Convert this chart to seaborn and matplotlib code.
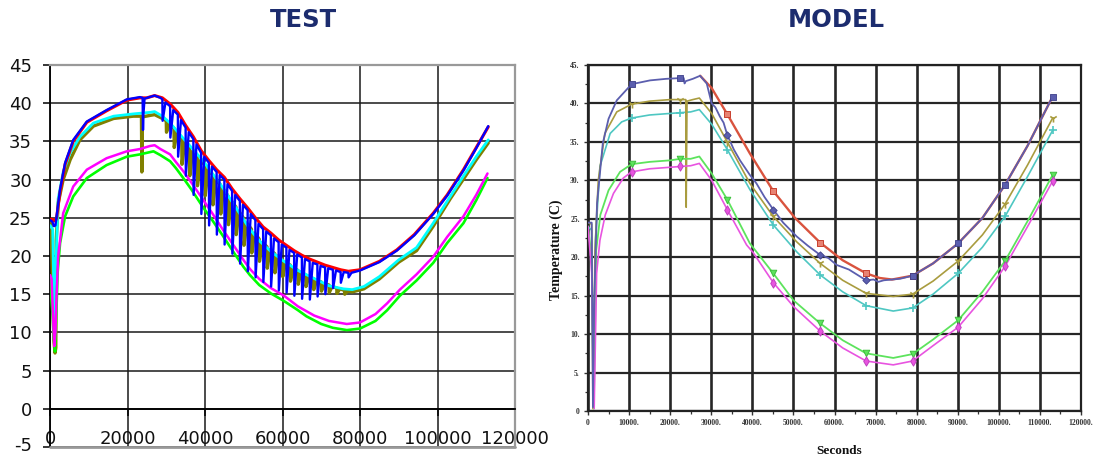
import numpy as np
import pandas as pd
import matplotlib
matplotlib.use("Agg")
import matplotlib.pyplot as plt
from matplotlib.ticker import MultipleLocator
from matplotlib.transforms import ScaledTranslation
import seaborn as sns

sns.set_theme(style="white")
plt.rcParams["font.family"] = ["DejaVu Sans"]
plt.rcParams["axes.unicode_minus"] = False

# ---------------- TEST panel data (seconds, deg C) ----------------
test_xticks = [0, 20000, 40000, 60000, 80000, 100000, 120000]
test_xtick_labels = ["0", "20000", "40000", "60000", "80000", "100000", "120000"]
test_yticks = [-5, 0, 5, 10, 15, 20, 25, 30, 35, 40, 45]

test_red = [(0, 24.8), (600, 24.8), (1000, 24.6), (1400, 24.6), (1700, 25.0), (2600, 28.4),
            (3900, 32.0), (6000, 35.0), (9500, 37.5), (14600, 39.0), (19800, 40.4), (23200, 40.7),
            (25000, 40.7), (27000, 41.0), (29000, 40.7), (31000, 39.9), (33000, 38.8), (35000, 37.1),
            (37000, 35.6), (39000, 33.8), (41000, 32.5), (43000, 31.3), (45000, 30.3), (47000, 28.8),
            (49000, 27.5), (51000, 26.3), (53000, 25.0), (55000, 23.8), (57000, 23.0), (59000, 22.1),
            (61000, 21.4), (63000, 20.7), (65000, 20.1), (67000, 19.6), (69000, 19.2), (71000, 18.8),
            (73000, 18.5), (75000, 18.2), (77000, 18.0), (80000, 18.2), (85000, 19.3), (89500, 20.8),
            (94000, 22.8), (98900, 25.6), (102500, 28.0), (106700, 31.3), (110000, 34.2), (113100, 36.9)]

test_blue = [(0, 24.7), (600, 24.5), (1000, 23.9), (1400, 24.0), (1700, 25.2), (2600, 28.7),
             (3900, 32.2), (6000, 35.2), (9500, 37.6), (14600, 39.1), (19800, 40.5), (23200, 40.8),
             (23900, 40.7), (24000, 36.5), (24100, 38.5), (24400, 40.6), (25000, 40.7), (27000, 41.0),
             (28500, 40.7),
             (29000, 40.5), (29060, 37.7), (29800, 40.1),
             (31000, 39.6), (31060, 35.5), (31800, 39.1),
             (33000, 38.5), (33060, 33.0), (33800, 37.8),
             (35000, 36.8), (35060, 30.5), (35800, 36.2),
             (37000, 35.3), (37060, 28.0), (37800, 34.6),
             (39000, 33.5), (39060, 25.5), (39800, 33.0),
             (41000, 32.2), (41060, 24.0), (41800, 31.7),
             (43000, 31.0), (43060, 22.8), (43800, 30.6),
             (45000, 30.0), (45060, 21.5), (45800, 29.4),
             (47000, 28.5), (47060, 20.3), (47800, 28.0),
             (49000, 27.2), (49060, 19.0), (49800, 26.7),
             (51000, 26.0), (51060, 18.0), (51800, 25.5),
             (53000, 24.7), (53060, 17.2), (53800, 24.2),
             (55000, 23.5), (55060, 16.6), (55800, 23.2),
             (57000, 22.7), (57060, 16.0), (57800, 22.3),
             (59000, 21.8), (59060, 15.5), (59800, 21.5),
             (61000, 21.1), (61060, 15.2), (61800, 20.8),
             (63000, 20.4), (63060, 14.8), (63800, 20.2),
             (65000, 19.8), (65060, 14.4), (65800, 19.6),
             (67000, 19.3), (67060, 14.3), (67800, 19.1),
             (69000, 18.9), (69060, 14.7), (69800, 18.7),
             (71000, 18.5), (71060, 15.0), (71800, 18.4),
             (73000, 18.2), (73060, 15.8), (73800, 18.1),
             (75000, 17.9), (75060, 16.5), (75800, 17.9),
             (77000, 17.8), (77060, 17.2), (77800, 17.8),
             (80000, 18.1), (85000, 19.2), (89500, 20.7), (94000, 22.7), (98900, 25.5),
             (102500, 27.9), (106700, 31.2), (110000, 34.1), (113100, 37.0)]

test_cyan = [(0, 24.0), (700, 23.5), (1000, 15.0), (1300, 11.0), (1600, 20.0), (2100, 27.5),
             (3400, 31.0), (5200, 33.5), (7700, 35.6), (11200, 37.4), (16400, 38.3), (21500, 38.6),
             (25800, 38.8), (27000, 38.9), (29000, 38.3), (31000, 37.4), (34400, 35.4), (39600, 32.4),
             (44800, 28.8), (48000, 26.3), (51600, 23.5), (54200, 21.9), (57000, 20.6), (60400, 19.3),
             (64000, 18.1), (68800, 16.9), (72000, 16.1), (75700, 15.7), (78000, 15.6), (81000, 16.0),
             (85000, 17.3), (90000, 19.5), (94600, 21.1), (98900, 24.3), (103300, 27.8), (107000, 30.7),
             (110000, 33.0), (113100, 35.2)]

test_olive = [(0, 24.5), (300, 24.0), (600, 17.0), (1000, 9.0), (1300, 7.3), (1500, 8.0),
              (1600, 22.0), (2100, 26.9), (3400, 30.0), (5200, 32.6), (7700, 35.2), (11200, 37.0),
              (16400, 38.0), (21500, 38.3), (23600, 38.3), (23700, 31.0), (23800, 38.2), (25800, 38.4),
              (27000, 38.5), (29000, 38.0),
              (30000, 37.7), (30060, 36.2), (30800, 37.3),
              (32000, 36.7), (32060, 34.2), (32800, 36.2),
              (34000, 35.4), (34060, 32.0), (34800, 34.9),
              (36000, 34.3), (36060, 30.5), (36800, 33.7),
              (38000, 33.1), (38060, 29.2), (38800, 32.5),
              (40000, 31.9), (40060, 27.9), (40800, 31.3),
              (42000, 30.6), (42060, 26.7), (42800, 30.0),
              (44000, 29.3), (44060, 25.5), (44800, 28.7),
              (46000, 27.8), (46060, 24.1), (46800, 27.2),
              (48000, 26.4), (48060, 22.8), (48800, 25.8),
              (50000, 24.9), (50060, 21.4), (50800, 24.3),
              (52000, 23.5), (52060, 20.4), (52800, 23.0),
              (54000, 22.2), (54060, 19.3), (54800, 21.8),
              (56000, 21.2), (56060, 18.4), (56800, 20.8),
              (58000, 20.3), (58060, 17.8), (58800, 20.0),
              (60000, 19.5), (60060, 17.3), (60800, 19.2),
              (62000, 18.8), (62060, 16.7), (62800, 18.5),
              (64000, 18.1), (64060, 16.3), (64800, 17.9),
              (66000, 17.5), (66060, 16.0), (66800, 17.3),
              (68000, 17.0), (68060, 15.6), (68800, 16.8),
              (70000, 16.6), (70060, 15.4), (70800, 16.4),
              (72000, 16.2), (72060, 15.2), (72800, 16.0),
              (74000, 15.8), (74060, 15.1), (74800, 15.7),
              (76000, 15.5), (76060, 15.0), (76800, 15.4),
              (78000, 15.3), (81000, 15.7), (85000, 17.0), (90000, 19.2), (94600, 20.7),
              (98900, 23.9), (103300, 27.5), (107000, 30.3), (110000, 32.6), (113100, 34.8)]

test_magenta = [(0, 17.5), (400, 17.0), (800, 12.0), (1100, 8.2), (1400, 10.0), (1700, 15.0),
                (2100, 19.9), (3400, 25.6), (6000, 29.1), (9500, 31.3), (14600, 32.8), (19800, 33.7),
                (23200, 34.0), (25800, 34.4), (27000, 34.5), (28500, 34.0), (31000, 33.3), (32500, 32.3),
                (34400, 31.1), (36500, 29.6), (39600, 27.3), (42000, 25.5), (44800, 23.3), (47500, 21.3),
                (49900, 19.5), (51600, 18.3), (54000, 17.0), (57000, 15.8), (60400, 14.8), (64000, 13.4),
                (68200, 12.2), (72000, 11.5), (76600, 11.1), (80000, 11.3), (84000, 12.4), (87000, 13.8),
                (90300, 15.6), (94600, 17.6), (98900, 19.9), (102500, 22.5), (106700, 25.2),
                (110000, 28.0), (112900, 30.8)]

test_green = [(0, 17.0), (400, 14.0), (700, 12.1), (1000, 9.0), (1300, 7.5), (1600, 12.0),
              (2000, 18.0), (2600, 21.7), (3900, 25.2), (6000, 27.8), (9500, 30.2), (14600, 31.9),
              (19800, 33.0), (23200, 33.3), (26700, 33.7), (28500, 33.2), (31000, 32.4), (32500, 31.5),
              (34400, 30.2), (36500, 28.7), (39600, 26.3), (42000, 24.6), (44800, 22.5), (47500, 20.4),
              (49900, 18.6), (51600, 17.5), (54000, 16.2), (57000, 15.1), (60400, 14.1), (64000, 12.9),
              (66200, 12.1), (70000, 11.1), (73000, 10.6), (76600, 10.3), (80000, 10.5), (84000, 11.5),
              (87000, 12.9), (90300, 14.8), (94600, 16.8), (98900, 19.1), (102500, 21.7),
              (106700, 24.3), (110000, 27.3), (112900, 30.2)]

# ---------------- MODEL panel data ----------------
model_xticks = [0, 10000, 20000, 30000, 40000, 50000, 60000, 70000, 80000, 90000, 100000, 110000, 120000]
model_xtick_labels = ["0", "10000.", "20000.", "30000.", "40000.", "50000.", "60000.",
                      "70000.", "80000.", "90000.", "100000.", "110000.", "120000."]
model_yticks = [0, 5, 10, 15, 20, 25, 30, 35, 40, 45]
model_ytick_labels = ["0", "5.", "10.", "15.", "20.", "25.", "30.", "35.", "40.", "45."]
model_marker_x = [10600, 22500, 33900, 45100, 56500, 67700, 79000, 90100, 101500, 113100]

model_purple_x = [0, 900, 1200, 1500, 2200, 3600, 5000, 7000, 10600, 15100, 19000, 22500, 23300,
                  23500, 23800, 25500, 27300, 28900, 30100, 31000, 32100, 33000, 33900, 35500, 37000,
                  39400, 41000, 43000, 45100, 47500, 50800, 53500, 56500, 58500, 60500, 63500, 66200,
                  67700, 69500, 70700, 72000, 74000, 76000, 79000, 84000, 90100, 96000, 101500,
                  107000, 113100]
model_purple_y = [24.5, 24.5, 0.5, 14.0, 27.0, 34.8, 38.0, 40.4, 42.5, 43.0, 43.2, 43.3, 43.3,
                  42.6, 42.9, 43.2, 43.6, 42.6, 40.0, 39.5, 38.3, 37.5, 35.9, 34.0, 32.6,
                  30.7, 29.6, 27.8, 26.2, 24.5, 22.7, 21.5, 20.3, 19.9, 19.0, 18.4, 17.5,
                  17.0, 17.1, 16.8, 17.0, 17.1, 17.2, 17.6, 19.2, 21.8, 25.1, 29.4,
                  34.5, 40.9]

model_red_x = [27300, 30100, 33900, 39400, 45100, 50400, 56500, 62000, 67700, 71000, 74000,
               79000, 84000, 90100, 96000, 101500, 107000, 113100]
model_red_y = [43.6, 42.0, 38.6, 33.5, 28.6, 25.1, 21.9, 19.6, 17.9, 17.3, 17.1,
               17.6, 19.2, 21.8, 25.1, 29.4, 34.5, 40.9]

model_olive_x = [0, 900, 1200, 1700, 2500, 4100, 7000, 10600, 15000, 20000, 22500, 23800, 23900,
                 24100, 25500, 27100, 30100, 33900, 39400, 45100, 50800, 56500, 62000, 67700,
                 74300, 79000, 84000, 90100, 96000, 101500, 107000, 113100]
model_olive_y = [24.5, 24.3, 0.3, 20.9, 30.0, 36.1, 38.9, 39.9, 40.3, 40.5, 40.5, 40.5, 26.5,
                 40.3, 40.5, 40.7, 38.7, 35.0, 29.6, 25.3, 22.0, 19.2, 17.0, 15.3,
                 14.9, 15.2, 16.9, 19.5, 22.9, 26.9, 32.0, 38.1]

model_cyan_x = [0, 900, 1300, 1800, 2900, 5400, 8200, 10600, 15000, 20000, 22500, 25000, 27100,
                30100, 33900, 39400, 45100, 50800, 56500, 62000, 67700, 74300, 79000, 84000,
                90100, 96000, 101500, 107000, 113100]
model_cyan_y = [24.0, 23.5, 1.0, 22.0, 31.8, 36.1, 37.6, 38.1, 38.5, 38.7, 38.8, 38.9, 39.2,
                37.3, 34.0, 28.8, 24.2, 20.7, 17.7, 15.5, 13.7, 13.0, 13.4, 15.2,
                17.9, 21.3, 25.3, 30.5, 36.5]

model_green_x = [0, 900, 1400, 1700, 2000, 3000, 5000, 7800, 10600, 15000, 20000, 22500, 25000,
                 27100, 30100, 33900, 39400, 45100, 50000, 56500, 62000, 67700, 74300, 79000,
                 84000, 90100, 96000, 101500, 107000, 113100]
model_green_y = [24.0, 20.0, 0.3, 10.0, 20.9, 25.5, 28.7, 31.1, 32.1, 32.4, 32.6, 32.8, 32.8,
                 33.1, 30.9, 27.5, 21.8, 17.9, 14.4, 11.4, 9.2, 7.5, 6.9, 7.4,
                 9.3, 11.8, 15.5, 19.5, 24.7, 30.7]

model_magenta_x = [0, 900, 1500, 2100, 2900, 4200, 6200, 8600, 10600, 15000, 20000, 22500, 25000,
                   27100, 30100, 33900, 38600, 40200, 45100, 50000, 56500, 62000, 67700, 74300,
                   79000, 84000, 90100, 96000, 101500, 107000, 113100]
model_magenta_y = [24.0, 18.0, 0.3, 17.9, 22.2, 25.5, 28.3, 30.3, 31.1, 31.5, 31.7, 31.8, 31.9,
                   32.2, 30.0, 26.2, 21.6, 20.6, 16.7, 13.6, 10.4, 8.2, 6.5, 6.0,
                   6.5, 8.5, 10.9, 14.6, 18.8, 24.0, 29.9]

# ---------------- figure ----------------
W, H = 1095, 455
fig = plt.figure(figsize=(W / 100, H / 100), dpi=100)
fig.patch.set_facecolor("white")

ax1 = fig.add_axes([50 / W, 1 - 447 / H, 465 / W, 382 / H])
ax2 = fig.add_axes([588 / W, 1 - 411 / H, 493 / W, 346 / H])


def draw_pairs(ax, pairs, color, lw, z):
    xs, ys = zip(*pairs)
    df = pd.DataFrame({"x": xs, "y": ys})
    sns.lineplot(data=df, x="x", y="y", ax=ax, color=color, linewidth=lw,
                 sort=False, estimator=None, zorder=z)


# TEST series
draw_pairs(ax1, test_olive, "#808000", 2.4, 3)
draw_pairs(ax1, test_cyan, "#00FFFF", 2.0, 4)
draw_pairs(ax1, test_green, "#00FF00", 1.9, 5)
draw_pairs(ax1, test_magenta, "#FF00FF", 1.8, 6)
draw_pairs(ax1, test_red, "#FF0000", 2.2, 7)
draw_pairs(ax1, test_blue, "#0000FF", 1.7, 8)

ax1.set_xlim(0, 120000)
ax1.set_ylim(-5, 45)
ax1.set_xticks(test_xticks)
ax1.set_xticklabels(test_xtick_labels)
ax1.set_yticks(test_yticks)
ax1.set_yticklabels([str(v) for v in test_yticks])
ax1.set_xlabel("")
ax1.set_ylabel("")
ax1.set_axisbelow(True)
ax1.grid(True, color="#1a1a1a", linewidth=1.1)
ax1.spines["bottom"].set_position(("data", 0))
for s in ["bottom", "left"]:
    ax1.spines[s].set_color("black")
    ax1.spines[s].set_linewidth(1.3)
for s in ["top", "right"]:
    ax1.spines[s].set_color("#999999")
    ax1.spines[s].set_linewidth(1.6)
ax1.axhline(-5, color="#999999", linewidth=2.0, zorder=10, clip_on=False)
ax1.tick_params(axis="x", direction="out", length=5, width=1.1, color="black",
                pad=10, labelsize=13, labelcolor="#111111", bottom=True)
ax1.tick_params(axis="y", direction="out", length=5, width=1.1, color="black",
                pad=8, labelsize=13, labelcolor="#111111", left=True)
# nudge the lowest y label up slightly so it stays inside the canvas
for lab in ax1.get_yticklabels():
    if lab.get_text() == "-5":
        lab.set_transform(lab.get_transform() + ScaledTranslation(0, 2.5 / 72, fig.dpi_scale_trans))

# MODEL series
model_series = [
    ("red", model_red_x, model_red_y, "#D9533E", 1.7, 3),
    ("cyan", model_cyan_x, model_cyan_y, "#4EC7C2", 1.2, 4),
    ("olive", model_olive_x, model_olive_y, "#A99C3F", 1.2, 5),
    ("green", model_green_x, model_green_y, "#5DE35D", 1.3, 6),
    ("magenta", model_magenta_x, model_magenta_y, "#E854E0", 1.2, 7),
    ("purple", model_purple_x, model_purple_y, "#5B5EAE", 1.3, 8),
]
marker_style = {
    "red": ("s", 22, "#E88272", "#C8402E"),
    "cyan": ("+", 26, "#4EC7C2", "#4EC7C2"),
    "olive": ("1", 34, "#A99C3F", "#A99C3F"),
    "green": ("v", 22, "#5DE35D", "#3DBF3D"),
    "magenta": ("d", 22, "#E854E0", "#C040C0"),
}
for name, xs, ys, col, lw, z in model_series:
    df = pd.DataFrame({"x": xs, "y": ys})
    sns.lineplot(data=df, x="x", y="y", ax=ax2, color=col, linewidth=lw,
                 sort=False, estimator=None, zorder=z)
    mk = df[df["x"].isin(model_marker_x)]
    if name == "purple":
        sq = mk[(mk["x"] < 30000) | (mk["x"] > 75000)]
        dm = mk[(mk["x"] > 30000) & (mk["x"] < 75000)]
        sns.scatterplot(data=sq, x="x", y="y", ax=ax2, marker="s", s=24,
                        color="#5B5EAE", edgecolor="#3E3F8A", linewidth=0.6, zorder=z + 10)
        sns.scatterplot(data=dm, x="x", y="y", ax=ax2, marker="D", s=14,
                        color="#5B5EAE", edgecolor="#3E3F8A", linewidth=0.6, zorder=z + 10)
    else:
        if name == "red":
            mk = mk[(mk["x"] > 30000) & (mk["x"] < 80000)]
        m, s, fc, ec = marker_style[name]
        if m in ("+", "1"):
            sns.scatterplot(data=mk, x="x", y="y", ax=ax2, marker=m, s=s,
                            color=fc, linewidth=1.2, zorder=z + 10)
        else:
            sns.scatterplot(data=mk, x="x", y="y", ax=ax2, marker=m, s=s,
                            color=fc, edgecolor=ec, linewidth=0.7, zorder=z + 10)

ax2.set_xlim(0, 120000)
ax2.set_ylim(0, 45)
ax2.set_xticks(model_xticks)
ax2.set_xticklabels(model_xtick_labels)
ax2.set_yticks(model_yticks)
ax2.set_yticklabels(model_ytick_labels)
ax2.xaxis.set_minor_locator(MultipleLocator(5000))
ax2.yaxis.set_minor_locator(MultipleLocator(2.5))
ax2.set_axisbelow(True)
ax2.grid(True, which="major", axis="x", color="#262626", linewidth=1.9)
ax2.grid(True, which="major", axis="y", color="#262626", linewidth=1.6)
for s in ax2.spines.values():
    s.set_color("#222222")
    s.set_linewidth(1.6)
serif = ["Liberation Serif", "DejaVu Serif"]
ax2.tick_params(which="major", direction="out", length=3, width=1.0, color="#333333",
                pad=3, labelsize=5.5, labelcolor="#333333", bottom=True, left=True)
ax2.tick_params(which="minor", direction="out", length=2.2, width=0.9, color="#333333",
                bottom=True, left=True)
for lab in ax2.get_xticklabels() + ax2.get_yticklabels():
    lab.set_fontfamily(serif)
    lab.set_fontweight("bold")
ax2.set_xlabel("Seconds", family=serif, fontweight="bold", fontsize=9.5, color="#111111")
ax2.set_ylabel("Temperature (C)", family=serif, fontweight="bold", fontsize=10, color="#111111")
ax2.xaxis.set_label_coords((839 - 588) / 493, (411 - 445) / 346)
ax2.yaxis.set_label_coords((563 - 588) / 493, (411 - 250) / 346)

# Titles
fig.text(303 / W, 1 - 20 / H, "TEST", ha="center", va="center", fontsize=17.5,
         fontweight="bold", color="#1C2C6E", family=["DejaVu Sans"])
fig.text(836 / W, 1 - 20 / H, "MODEL", ha="center", va="center", fontsize=17.5,
         fontweight="bold", color="#1C2C6E", family=["DejaVu Sans"])

fig.savefig("out.png", dpi=100, facecolor="white")
